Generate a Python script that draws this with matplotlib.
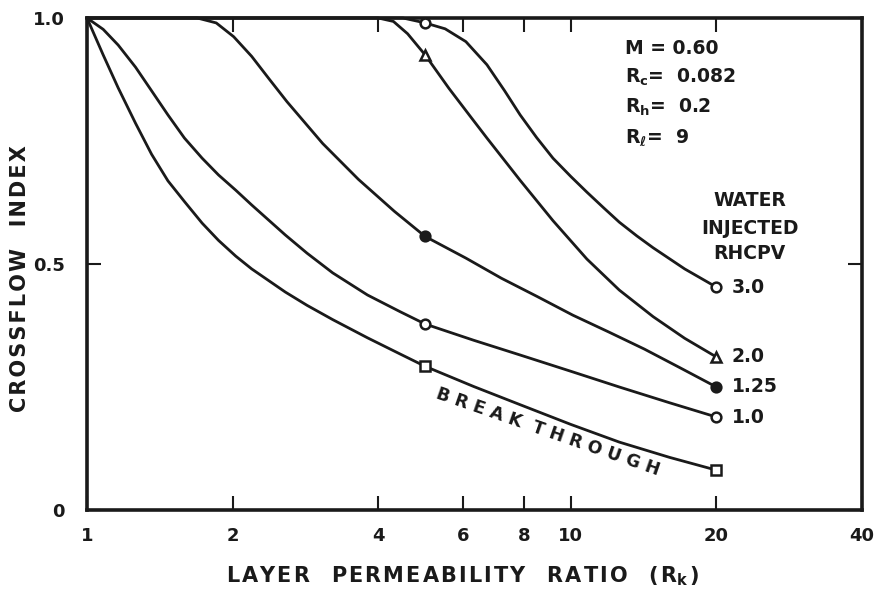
import matplotlib
matplotlib.use("Agg")
import matplotlib.pyplot as plt
from matplotlib.ticker import FixedLocator, FixedFormatter, NullLocator

plt.rcParams['font.family'] = ['DejaVu Sans']
plt.rcParams['font.weight'] = 'bold'
plt.rcParams['mathtext.default'] = 'bf'

# ---- data ----
# Breakthrough
x_bt = [1.0, 1.08, 1.16, 1.26, 1.36, 1.47, 1.59, 1.73, 1.87, 2.03, 2.19, 2.57, 2.85,
        3.22, 3.8, 4.44, 5.0, 6.3, 7.86, 10.0, 12.6, 16.0, 20.0]
y_bt = [1.0, 0.925, 0.858, 0.786, 0.723, 0.669, 0.627, 0.583, 0.548, 0.516, 0.490,
        0.443, 0.416, 0.387, 0.350, 0.317, 0.292, 0.251, 0.214, 0.174, 0.138, 0.107, 0.081]

# 1.0 RHCPV
x_10 = [1.0, 1.08, 1.16, 1.26, 1.36, 1.47, 1.59, 1.73, 1.87, 2.03, 2.19, 2.57, 2.85,
        3.22, 3.8, 4.44, 5.0, 6.3, 7.86, 10.0, 12.6, 16.0, 20.0]
y_10 = [1.0, 0.977, 0.945, 0.900, 0.852, 0.803, 0.756, 0.715, 0.681, 0.650, 0.620,
        0.559, 0.522, 0.482, 0.437, 0.403, 0.378, 0.345, 0.315, 0.282, 0.250, 0.218, 0.189]

# 1.25 RHCPV
x_125 = [1.0, 1.69, 1.85, 2.01, 2.19, 2.38, 2.59, 3.07, 3.64, 4.32, 5.0, 6.07, 7.19,
         8.52, 10.1, 11.97, 14.2, 16.83, 20.0]
y_125 = [1.0, 1.0, 0.99, 0.962, 0.922, 0.876, 0.830, 0.745, 0.672, 0.607, 0.556, 0.512,
         0.471, 0.434, 0.396, 0.362, 0.327, 0.289, 0.250]

# 2.0 RHCPV
x_20 = [1.0, 4.0, 4.3, 4.6, 5.0, 5.6, 6.2, 6.71, 7.86, 9.19, 10.8, 12.6, 14.8, 17.2, 20.0]
y_20 = [1.0, 1.0, 0.993, 0.968, 0.925, 0.857, 0.800, 0.756, 0.670, 0.588, 0.510, 0.447,
        0.393, 0.349, 0.311]

# 3.0 RHCPV
x_30 = [1.0, 4.5, 5.0, 5.5, 6.07, 6.71, 7.3, 7.86, 8.5, 9.19, 10.0, 10.8, 11.7, 12.6,
        13.7, 14.8, 17.2, 20.0]
y_30 = [1.0, 1.0, 0.99, 0.978, 0.952, 0.905, 0.852, 0.803, 0.757, 0.715, 0.678, 0.646,
        0.614, 0.585, 0.557, 0.533, 0.490, 0.453]

curve_labels = ['3.0', '2.0', '1.25', '1.0']
label_y = [0.453, 0.311, 0.25, 0.189]

x_ticks = [1, 2, 4, 6, 8, 10, 20, 40]
x_ticklabels = ['1', '2', '4', '6', '8', '10', '20', '40']
y_ticks = [0, 0.5, 1.0]
y_ticklabels = ['0', '0.5', '1.0']

params = ['M = 0.60', r'R$_c$=  0.082', r'R$_h$=  0.2', r'R$_\ell$=  9']


def spaced(s, sep='\u200a'):
    return sep.join(s)


# ---- figure ----
fig = plt.figure(figsize=(8.81, 5.91), dpi=100)
ax = fig.add_axes([87/881, 1 - 510/591, 775/881, 492/591])
ax.set_xscale('log')
ax.set_xlim(1, 40)
ax.set_ylim(0, 1)

ink = '#1a1a1a'
lw = 2.0
ms = 7
series = [
    (x_bt, y_bt, 's', 'white'),
    (x_10, y_10, 'o', 'white'),
    (x_125, y_125, 'o', ink),
    (x_20, y_20, '^', 'white'),
    (x_30, y_30, 'o', 'white'),
]
for xs, ys, mk, fc in series:
    idx = [i for i, v in enumerate(xs) if v in (5.0, 20.0)]
    ax.plot(xs, ys, color=ink, lw=lw, marker=mk, markevery=idx,
            markersize=ms, markerfacecolor=fc, markeredgecolor=ink,
            markeredgewidth=1.8, clip_on=False, zorder=3,
            solid_joinstyle='round', solid_capstyle='round')

for sp in ax.spines.values():
    sp.set_linewidth(2.6)
    sp.set_color(ink)

ax.xaxis.set_major_locator(FixedLocator(x_ticks))
ax.xaxis.set_major_formatter(FixedFormatter(x_ticklabels))
ax.xaxis.set_minor_locator(NullLocator())
ax.yaxis.set_major_locator(FixedLocator(y_ticks))
ax.yaxis.set_major_formatter(FixedFormatter(y_ticklabels))
ax.tick_params(axis='both', which='major', direction='in', length=10, width=1.5,
               top=True, right=True, labelsize=13, colors=ink)
ax.tick_params(axis='x', pad=12)
ax.tick_params(axis='y', pad=16)

xlab = spaced('LAYER') + '   ' + spaced('PERMEABILITY') + '   ' + spaced('RATIO') + \
    '   (\u200aR$_k$\u200a)'
ax.set_xlabel(xlab, fontsize=15, fontweight='bold', color=ink)
ax.xaxis.set_label_coords(0.485, -0.11)
ylab = spaced('CROSSFLOW') + '   ' + spaced('INDEX')
ax.set_ylabel(ylab, fontsize=15, fontweight='bold', color=ink)
ax.yaxis.set_label_coords(-0.073, 0.47)

ys_par = [0.939, 0.880, 0.819, 0.756]
for t, yy in zip(params, ys_par):
    ax.text(0.694, yy, t, transform=ax.transAxes, fontsize=13.5,
            fontweight='bold', va='center', ha='left', color=ink)

for t, yy in zip(['WATER', 'INJECTED', 'RHCPV'], [0.630, 0.573, 0.522]):
    ax.text(0.855, yy, t, transform=ax.transAxes, fontsize=13.5,
            fontweight='bold', va='center', ha='center', color=ink)

for t, yy in zip(curve_labels, label_y):
    ax.text(21.5, yy, t, fontsize=13.5, fontweight='bold', va='center',
            ha='left', color=ink)

ax.text(8.98, 0.159, 'B R E A K  T H R O U G H', fontsize=12.5, fontweight='bold',
        rotation=-19.2, rotation_mode='anchor', ha='center', va='center',
        color=ink)

fig.savefig('out.png', dpi=100)
